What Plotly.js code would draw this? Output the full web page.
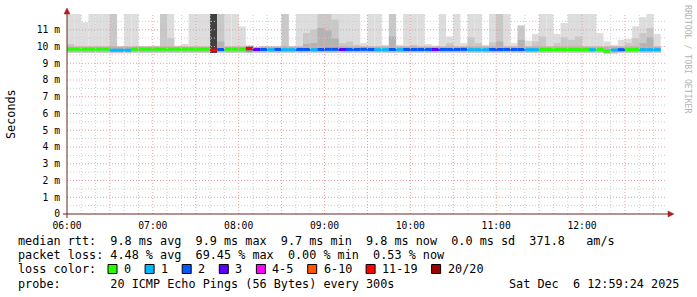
<!DOCTYPE html>
<html><head><meta charset="utf-8">
<script src="https://cdn.plot.ly/plotly-3.0.1.min.js"></script>
<style>html,body{margin:0;padding:0;background:#fff;}#chart{width:697px;height:297px;}</style>
</head><body><div id="chart"></div>
<script>
// ---------- data ----------
const day = '2025-12-06';
const slots = [
 '06:00','06:05','06:10','06:15','06:20','06:25','06:30','06:35','06:40','06:45','06:50','06:55',
 '07:00','07:05','07:10','07:15','07:20','07:25','07:30','07:35','07:40','07:45','07:50','07:55',
 '08:00','08:05','08:10','08:15','08:20','08:25','08:30','08:35','08:40','08:45','08:50','08:55',
 '09:00','09:05','09:10','09:15','09:20','09:25','09:30','09:35','09:40','09:45','09:50','09:55',
 '10:00','10:05','10:10','10:15','10:20','10:25','10:30','10:35','10:40','10:45','10:50','10:55',
 '11:00','11:05','11:10','11:15','11:20','11:25','11:30','11:35','11:40','11:45','11:50','11:55',
 '12:00','12:05','12:10','12:15','12:20','12:25','12:30','12:35','12:40','12:45','12:50'];
// smoke: highest ping (ms), clipped at the top of the graph
const smokeMax = [12,12,11.45,12,12,12,12,10.0,12,12,
 10.0,10.0,10.05,12,12,10.05,10.15,12,12,12,
 12,12,12,12,11.2,10.05,9.95,10.0,10.0,10.0,
 12,10.0,12,12,12,12,12,12,12,12,
 12,10.2,12,12,10.1,12,10.1,12,12,12,
 10.15,10.05,12,10.6,12,10.2,12,12,10.1,12,
 12,12,10.2,11.25,10.35,10.75,12,12,10.75,11.4,
 12,12,12,12,10.8,10.3,10.1,10.4,10.45,11.2,
 11.75,12,10.75];
// smoke: upper inner band (ms)
const smokeMid = [10.15,9.95,9.95,9.95,9.95,9.95,12,9.95,9.95,9.95,
 9.95,9.95,9.95,12,10.5,9.95,9.95,9.95,9.95,9.95,
 9.95,12,9.95,9.95,9.95,9.95,9.95,9.95,9.95,9.95,
 12,9.95,9.95,10.8,11.0,12,12,11.6,10.2,10.3,
 10.1,9.95,10.0,9.95,9.95,12,9.95,10.0,10.1,9.95,
 9.95,9.95,9.95,10.2,9.95,9.95,10.55,10.2,9.95,10.25,
 12,9.95,9.95,11.25,9.95,10.3,10.6,9.95,10.2,10.55,
 10.4,10.6,9.95,9.95,9.95,9.95,9.95,9.95,10.2,10.5,
 10.8,11.1,9.95];
// smoke: core band around the median (ms)
const smokeQ3 = [10.0,10.0,10.0,10.0,10.0,10.0,10.0,10.0,10.0,10.0,
 10.0,10.0,10.0,10.0,10.0,10.0,10.0,10.0,10.0,10.0,
 10.0,10.3,10.0,10.0,10.0,10.0,9.95,10.0,10.0,10.0,
 10.0,10.0,10.0,10.15,10.2,11.1,10.95,10.5,10.0,10.0,
 10.0,10.0,10.0,10.0,10.0,10.6,10.0,10.0,10.0,10.0,
 10.0,10.0,10.0,10.0,10.0,10.0,10.0,10.0,10.0,10.0,
 10.3,10.0,10.0,10.4,10.0,10.0,10.0,10.0,10.0,10.0,
 10.0,10.0,10.0,10.0,10.0,10.0,10.0,10.0,10.0,10.0,
 10.2,10.55,10.0];
const smokeQ1 = [9.69,9.69,9.69,9.69,9.69,9.69,9.67,9.67,9.67,9.69,
 9.69,9.69,9.69,9.69,9.69,9.69,9.69,9.69,9.69,9.69,
 9.67,9.69,9.69,9.69,9.69,9.72,9.69,9.69,9.69,9.69,
 9.69,9.69,9.69,9.69,9.69,9.69,9.69,9.69,9.69,9.69,
 9.69,9.69,9.69,9.69,9.69,9.69,9.69,9.69,9.69,9.69,
 9.69,9.69,9.69,9.69,9.69,9.69,9.69,9.69,9.69,9.69,
 9.69,9.69,9.69,9.69,9.69,9.69,9.69,9.69,9.69,9.69,
 9.69,9.69,9.69,9.69,9.69,9.62,9.65,9.69,9.69,9.69,
 9.69,9.69,9.69];
// smoke: lowest ping (ms)
const smokeMin = [9.62,9.62,9.62,9.62,9.62,9.62,9.6,9.6,9.6,9.62,
 9.62,9.62,9.62,9.62,9.62,9.62,9.62,9.62,9.62,9.62,
 9.62,9.62,9.62,9.62,9.62,9.65,9.62,9.62,9.62,9.62,
 9.62,9.62,9.62,9.62,9.62,9.62,9.62,9.62,9.62,9.62,
 9.62,9.62,9.62,9.62,9.62,9.62,9.62,9.62,9.62,9.62,
 9.62,9.62,9.62,9.62,9.62,9.62,9.62,9.62,9.62,9.62,
 9.62,9.62,9.62,9.62,9.62,9.62,9.62,9.62,9.62,9.62,
 9.62,9.62,9.62,9.62,9.62,9.56,9.58,9.62,9.62,9.62,
 9.62,9.62,9.62];
// median rtt (ms)
const medianRtt = [9.84,9.84,9.84,9.84,9.84,9.84,9.78,9.78,9.78,9.84,
 9.84,9.84,9.84,9.84,9.84,9.84,9.84,9.84,9.84,9.84,
 9.78,9.82,9.84,9.84,9.84,9.88,9.82,9.82,9.81,9.82,
 9.81,9.81,9.82,9.82,9.81,9.82,9.83,9.83,9.82,9.82,
 9.82,9.83,9.82,9.81,9.81,9.82,9.81,9.82,9.82,9.82,
 9.82,9.82,9.82,9.82,9.82,9.83,9.81,9.81,9.81,9.82,
 9.82,9.82,9.82,9.82,9.81,9.81,9.82,9.82,9.82,9.82,
 9.82,9.82,9.82,9.81,9.82,9.73,9.79,9.81,9.82,9.82,
 9.81,9.81,9.81];
// lost pings out of 20
const lostPings = [0,0,0,0,0,0,1,1,1,0,
 0,0,0,0,0,0,0,0,0,0,
 14,2,0,0,0,11,3,2,1,2,
 1,1,2,2,1,2,2,2,3,2,
 2,2,2,1,1,2,1,2,2,2,
 2,3,2,2,2,2,1,1,1,2,
 2,2,2,2,1,1,0,0,0,0,
 0,0,0,1,0,0,1,2,0,0,
 1,1,1];
const hourTicks = ['06:00','07:00','08:00','09:00','10:00','11:00','12:00'];
const yTickVals = [0,1,2,3,4,5,6,7,8,9,10,11];
const yTickText = ['0','1 m','2 m','3 m','4 m','5 m','6 m','7 m','8 m','9 m','10 m','11 m'];
const lossLabels = ['0','1','2','3','4-5','6-10','11-19','20/20'];
const lossColors = ['#26ff00','#00b8ff','#0059ff','#5e00ff','#ff00ff','#ff5500','#ff0000','#a00000'];
const statLines = [
 'median rtt:  9.8 ms avg  9.9 ms max  9.7 ms min  9.8 ms now  0.0 ms sd  371.8   am/s',
 'packet loss: 4.48 % avg  69.45 % max  0.00 % min  0.53 % now'];
const probeLine = 'probe:       20 ICMP Echo Pings (56 Bytes) every 300s';
const stampLine = 'Sat Dec  6 12:59:24 2025';

// ---------- helpers ----------
const MONO = 'DejaVu Sans Mono';
const L = 67, R = 667, T = 14, B = 214;
const px = v => (v - L) / (R - L);
const py = v => (B - v) / (B - T);
const nb = s => s.replace(/ /g, '\u00a0');
function lossIndex(n){ if(n<=3) return n; if(n<=5) return 4; if(n<=10) return 5; if(n<=19) return 6; return 7; }

const xs = slots.map(s => day + ' ' + s);
const STEP = 300000;
const shadeLight = lostPings.map(n => n>=13 ? '#404040' : n>=11 ? '#9a9a9a' : '#dddddd');
const shadeMid = lostPings.map(n => n>=13 ? '#404040' : n>=11 ? '#9a9a9a' : '#c8c8c8');
const shadeCore = lostPings.map(n => n>=13 ? '#404040' : n>=11 ? '#8a8a8a' : '#b3b3b3');

function barTrace(lo, hi, colors){
  return {type:'bar', x: xs, base: lo, y: hi.map((h,i)=>Math.max(0,h-lo[i])),
    width: STEP, offset: 0, marker:{color: colors, line:{width:0}}, hoverinfo:'skip'};
}
const medLo = medianRtt.map(m => m - 0.09);
const medHi = medianRtt.map(m => m + 0.09);
const traces = [
  barTrace(smokeMin, smokeMax, shadeLight),
  barTrace(smokeMin, smokeMid, shadeMid),
  barTrace(smokeQ1, smokeQ3, shadeCore),
  barTrace(medLo, medHi, lostPings.map(n => lossColors[lossIndex(n)]))
];

// ---------- grid, axes, legend ----------
const shapes = [];
const minorGrid = '#cfcfcf', majorGrid = '#e8a0a0';
for (let v = 0.5; v < 11.95; v += 0.5) {
  const major = Math.abs(v - Math.round(v)) < 1e-9;
  shapes.push({type:'line', layer:'above', xref:'paper', yref:'y', x0:0, x1:1, y0:v, y1:v,
    line:{color: major?majorGrid:minorGrid, width:1, dash:'1px,2px'}});
}
for (let h = 6; h <= 12; h++) {
  for (let m = 0; m < 60; m += 10) {
    if (h === 6 && m === 0) continue;
    const t = day + ' ' + String(h).padStart(2,'0') + ':' + String(m).padStart(2,'0');
    const major = (m === 0 || m === 30);
    shapes.push({type:'line', layer:'above', xref:'x', yref:'paper', x0:t, x1:t, y0:0, y1:1,
      line:{color: major?majorGrid:minorGrid, width:1, dash:'1px,2px'}});
  }
}
const axisCol = '#6b2626', arrowCol = '#a82020';
shapes.push({type:'line', layer:'above', xref:'paper', yref:'paper', x0:px(63), x1:px(670), y0:py(214), y1:py(214), line:{color:axisCol, width:1}});
shapes.push({type:'line', layer:'above', xref:'paper', yref:'paper', x0:px(67), x1:px(67), y0:py(218), y1:py(11), line:{color:axisCol, width:1}});
shapes.push({type:'path', layer:'above', xref:'paper', yref:'paper',
  path:`M ${px(668)} ${py(211)} L ${px(674)} ${py(214)} L ${px(668)} ${py(217)} Z`, fillcolor:arrowCol, line:{color:arrowCol, width:0.5}});
shapes.push({type:'path', layer:'above', xref:'paper', yref:'paper',
  path:`M ${px(64)} ${py(14)} L ${px(67)} ${py(8)} L ${px(70)} ${py(14)} Z`, fillcolor:arrowCol, line:{color:arrowCol, width:0.5}});

const annotations = [];
const txtFont = {family: MONO, size: 11.8, color: '#000'};
const lineY = [241, 255, 269, 283.5];
statLines.forEach((s,i) => annotations.push({xref:'paper', yref:'paper', x:px(16), y:py(lineY[i]),
  xanchor:'left', yanchor:'middle', showarrow:false, text: nb(s), font: txtFont}));
annotations.push({xref:'paper', yref:'paper', x:px(16), y:py(lineY[2]), xanchor:'left', yanchor:'middle',
  showarrow:false, text: nb('loss color:'), font: txtFont});
let bx = 108;
lossLabels.forEach((lab, i) => {
  shapes.push({type:'rect', layer:'above', xref:'paper', yref:'paper', x0:px(bx), x1:px(bx+9), y0:py(273.5), y1:py(264.5),
    fillcolor: lossColors[i], line:{color:'#000', width:1}});
  annotations.push({xref:'paper', yref:'paper', x:px(bx+14), y:py(lineY[2]), xanchor:'left', yanchor:'middle',
    showarrow:false, text: nb(lab), font: txtFont});
  bx += 14 + 7.1*lab.length + 16;
});
annotations.push({xref:'paper', yref:'paper', x:px(16), y:py(lineY[3]), xanchor:'left', yanchor:'middle',
  showarrow:false, text: nb(probeLine), font: txtFont});
annotations.push({xref:'paper', yref:'paper', x:px(681), y:py(lineY[3]), xanchor:'right', yanchor:'middle',
  showarrow:false, text: nb(stampLine), font: txtFont});
annotations.push({xref:'paper', yref:'paper', x:px(11), y:py(114), xanchor:'center', yanchor:'middle',
  showarrow:false, text:'Seconds', textangle:-90, font: txtFont});
annotations.push({xref:'paper', yref:'paper', x:px(688), y:py(59), xanchor:'center', yanchor:'middle',
  showarrow:false, text: nb('RRDTOOL / TOBI OETIKER'), textangle:90, font:{family:MONO, size:8.2, color:'#b4b4b4'}});

const tickFont = {family: MONO, size: 9.7, color: '#000'};
const layout = {
  width: 697, height: 297,
  margin: {l: L, r: 697-R, t: T, b: 297-B, pad: 0},
  paper_bgcolor: '#ffffff', plot_bgcolor: '#ffffff',
  showlegend: false, barmode: 'overlay',
  xaxis: {type:'date', range:[day+' 06:00:00', day+' 12:59:24'], tickmode:'array',
    tickvals: hourTicks.map(h => day+' '+h), ticktext: hourTicks,
    showgrid:false, zeroline:false, showline:false, ticks:'outside', ticklen:2, tickcolor:'rgba(0,0,0,0)',
    tickfont: tickFont, fixedrange:true},
  yaxis: {range:[0, 11.94], tickmode:'array', tickvals: yTickVals, ticktext: yTickText,
    showgrid:false, zeroline:false, showline:false, ticks:'outside', ticklen:4, tickcolor:'rgba(0,0,0,0)',
    tickfont: tickFont, fixedrange:true},
  shapes: shapes, annotations: annotations
};
Plotly.newPlot('chart', traces, layout, {displayModeBar:false, staticPlot:true});
</script></body></html>
